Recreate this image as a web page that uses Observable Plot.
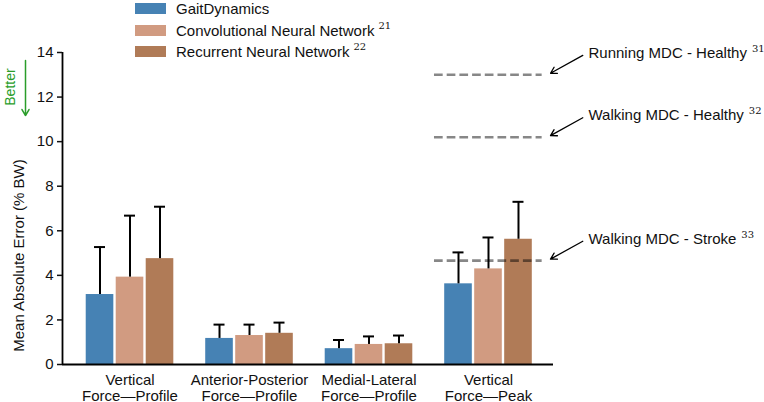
<!DOCTYPE html>
<html>
<head>
<meta charset="utf-8">
<script src="https://cdn.jsdelivr.net/npm/d3@7"></script>
<script src="https://cdn.jsdelivr.net/npm/@observablehq/plot@0.6"></script>
<style>
  html, body { margin: 0; padding: 0; background: white; }
  #wrap { position: relative; width: 764px; height: 402px; font-family: "Liberation Sans", Arial, sans-serif; }
  #legend { position: absolute; left: 135px; top: -2px; font-size: 15px; color: #111; }
  .row { position: relative; height: 21.5px; display: flex; align-items: center; }
  .sw { width: 31px; height: 11px; margin-right: 10px; }
  .sup { font-family: "DejaVu Serif", serif; font-size: 10px; position: relative; top: -5px; margin-left: 4px; }
</style>
</head>
<body>
<div id="wrap">
  <div id="chart"></div>
  <div id="legend"></div>
</div>
<script>
const groups = ["Vertical\nForce—Profile", "Anterior-Posterior\nForce—Profile", "Medial-Lateral\nForce—Profile", "Vertical\nForce—Peak"];
const series = ["GaitDynamics", "Convolutional Neural Network", "Recurrent Neural Network"];
const seriesRefs = ["", "21", "22"];
const colors = ["#4682b4", "#d19b81", "#b07b57"];

const gaitMean = [3.14, 1.17, 0.71, 3.62];
const gaitSd   = [2.13, 0.62, 0.39, 1.41];
const cnnMean  = [3.92, 1.30, 0.90, 4.29];
const cnnSd    = [2.76, 0.49, 0.36, 1.41];
const rnnMean  = [4.75, 1.40, 0.93, 5.62];
const rnnSd    = [2.33, 0.48, 0.37, 1.68];

const mdcValues = [13.0, 10.2, 4.66];
const mdcLabels = ["Running MDC - Healthy", "Walking MDC - Healthy", "Walking MDC - Stroke"];
const mdcRefs = ["31", "32", "33"];

const yTicks = [0, 2, 4, 6, 8, 10, 12, 14];

const means = [gaitMean, cnnMean, rnnMean];
const sds = [gaitSd, cnnSd, rnnSd];
const rows = [];
groups.forEach((g, gi) => {
  series.forEach((s, sj) => {
    rows.push({group: g, gi, series: s, sj, mean: means[sj][gi], sd: sds[sj][gi]});
  });
});
const mdc = mdcValues.map((v, i) => ({value: v, label: mdcLabels[i], ref: mdcRefs[i]}));

const STEP = 0.251, HALF = 0.1155, CAP = 0.046;
const cx = d => d.gi + (d.sj - 1) * STEP;
const green = "#2a9d2a";

const plot = Plot.plot({
  width: 764, height: 402,
  marginLeft: 62, marginRight: 211, marginTop: 52, marginBottom: 38,
  x: {type: "linear", domain: [-0.565, 3.544], axis: null},
  y: {domain: [0, 14], axis: null},
  color: {domain: series, range: colors},
  style: {fontFamily: "'Liberation Sans', Arial, sans-serif", fontSize: "15px", background: "white", color: "#111", overflow: "visible"},
  marks: [
    Plot.rect(rows, {x1: d => cx(d) - HALF, x2: d => cx(d) + HALF, y1: 0, y2: "mean", fill: "series"}),
    Plot.ruleY(mdc, {y: "value", x1: 2.548, x2: 3.449, stroke: "#000", strokeOpacity: 0.47, strokeWidth: 2.6, strokeDasharray: "8.7,4"}),
    Plot.ruleX(rows, {x: cx, y1: "mean", y2: d => d.mean + d.sd, stroke: "black", strokeWidth: 2}),
    Plot.ruleY(rows, {y: d => d.mean + d.sd, x1: d => cx(d) - CAP, x2: d => cx(d) + CAP, stroke: "black", strokeWidth: 2}),
    Plot.ruleY([0], {stroke: "black", strokeWidth: 1.8}),
    Plot.ruleX([-0.565], {y1: 0, y2: 14, stroke: "black", strokeWidth: 1.8}),
    Plot.axisY({ticks: yTicks, tickSize: 5, tickPadding: 4, fontSize: 15, label: null, tickFormat: d => String(d), strokeWidth: 1.5}),
    Plot.text(groups, {x: (d, i) => i, y: 0, text: d => d, dy: 9.6, lineAnchor: "top", fontSize: 15, lineHeight: 1.03}),
    Plot.text(["Mean Absolute Error (% BW)"], {text: d => d, x: -0.9248, y: 4.89, rotate: -90, fontSize: 15}),
    Plot.text(["Better"], {text: d => d, x: -1.0, y: 12.45, rotate: -90, fill: green, fontSize: 14}),
    Plot.arrow([0], {x1: -0.8746, x2: -0.8746, y1: 13.64, y2: 11.17, stroke: green, strokeWidth: 1.5, headLength: 7}),
    Plot.arrow(mdc, {x1: 3.789, y1: d => d.value + 0.87, x2: 3.519, y2: d => d.value + 0.07, stroke: "black", strokeWidth: 1.3, headLength: 8}),
    Plot.text(mdc, {x: 3.837, y: d => d.value + 0.97, text: "label", textAnchor: "start", fontSize: 15})
  ]
});

d3.select(plot).selectAll("text").each(function() {
  const idx = mdcLabels.indexOf(this.textContent);
  if (idx >= 0) {
    d3.select(this).append("tspan")
      .attr("dx", 5).attr("dy", -6)
      .attr("font-size", 10).attr("font-family", "'DejaVu Serif', serif")
      .text(mdcRefs[idx]);
  }
});

document.getElementById("chart").appendChild(plot);

const legend = d3.select("#legend");
series.forEach((s, i) => {
  const row = legend.append("div").attr("class", "row");
  row.append("div").attr("class", "sw").style("background", colors[i]);
  row.append("span").text(s);
  if (seriesRefs[i]) row.append("span").attr("class", "sup").text(seriesRefs[i]);
});
</script>
</body>
</html>
